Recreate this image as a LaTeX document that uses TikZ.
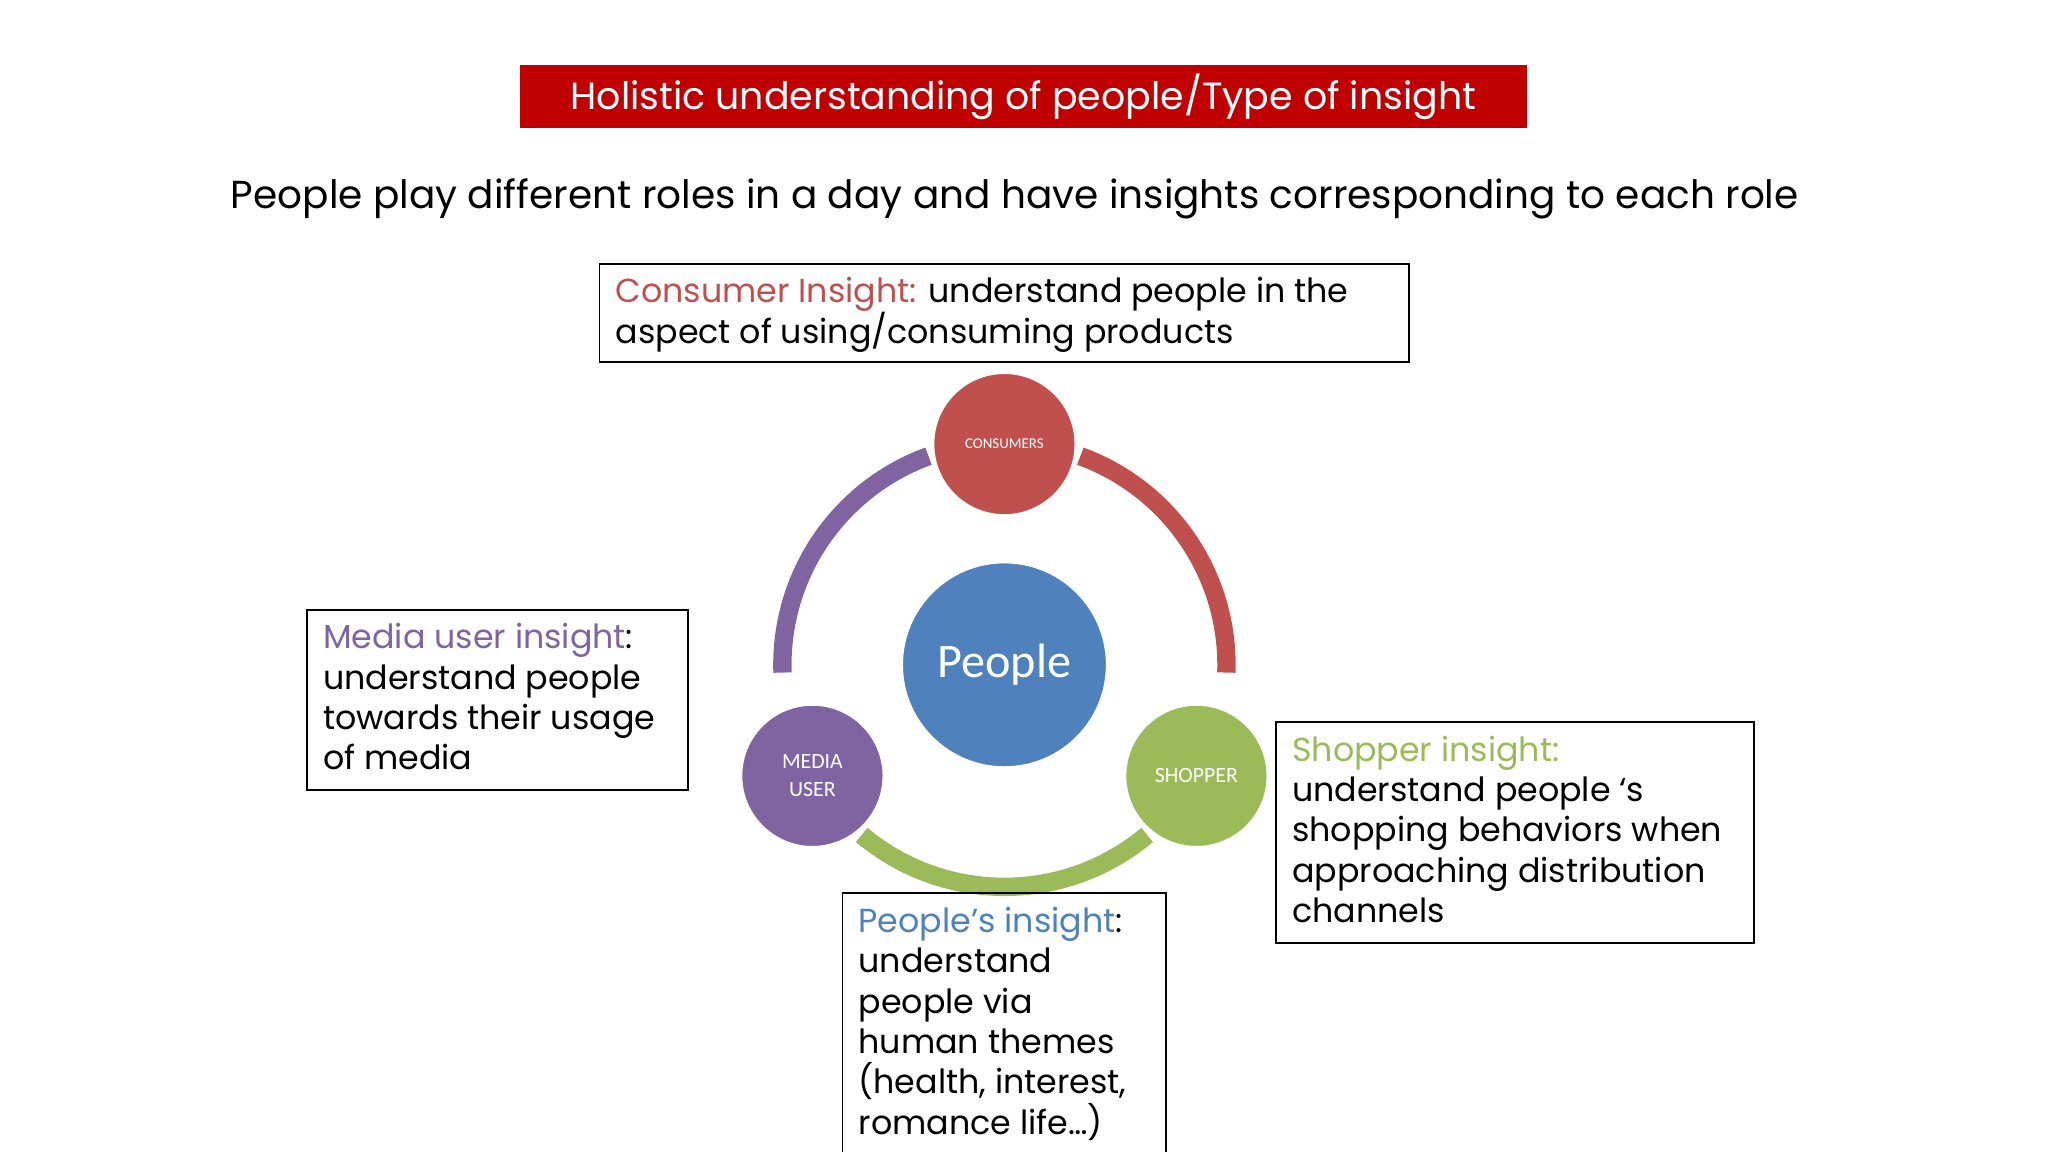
\documentclass[tikz,border=0pt]{standalone}
\usepackage{fontspec}
\setmainfont{Poppins}
\newfontfamily\calfont{Carlito}
\definecolor{cred}{HTML}{C0504D}
\definecolor{cgreen}{HTML}{9BBB59}
\definecolor{cpurple}{HTML}{8064A2}
\definecolor{cblue}{HTML}{4F81BD}
\definecolor{tred}{HTML}{C00000}
\begin{document}
\begin{tikzpicture}[x=0.02cm,y=-0.02cm,
  ibox/.style={draw=black,line width=0.8pt},
  itext/.style={anchor=north west,align=left,inner sep=0,font=\fontsize{14.5}{17.6}\selectfont},
  role/.style={circle,draw=white,line width=1.5pt,minimum size=2.2cm,text=white,align=center,inner sep=0},
  ring/.style={line width=8pt}]
\useasboundingbox[fill=white] (0,0) rectangle (1568,882);
\node[fill=tred,minimum width=15.42cm,minimum height=0.96cm,text=white,font=\fontsize{16.5}{19}\selectfont] (title) at (783.5,74) {Holistic understanding of people/Type of insight};
\node[font=\fontsize{17}{20}\selectfont] (sub) at (777,152) {People play different roles in a day and have insights corresponding to each role};
% ring
\coordinate (c) at (769,509);
\draw[ring,cred] ([shift={(-70:170)}]c) arc[start angle=-70,end angle=2,radius=170];
\draw[ring,cgreen] ([shift={(50:170)}]c) arc[start angle=50,end angle=130,radius=170];
\draw[ring,cpurple] ([shift={(178:170)}]c) arc[start angle=178,end angle=250,radius=170];
% circles
\node[role,fill=cblue,minimum size=3.16cm,font=\calfont\fontsize{21}{24}\selectfont] (people) at (769,509) {People};
\node[role,fill=cred,font=\calfont\fontsize{6.5}{8}\selectfont] (cons) at (769,340) {CONSUMERS};
\node[role,fill=cgreen,font=\calfont\fontsize{9.5}{11}\selectfont] (shop) at (916,594) {SHOPPER};
\node[role,fill=cpurple,font=\calfont\fontsize{9.5}{12.2}\selectfont] (media) at (622,594) {MEDIA\\USER};
% boxes
\draw[ibox] (459,202) rectangle (1079,277);
\node[itext] (ct) at (471,212) {\textcolor{cred}{Consumer Insight:} understand people in the\\aspect of using/consuming products};
\draw[ibox] (235,467) rectangle (527,605);
\node[itext] (mt) at (247,477) {\textcolor{cpurple}{Media user insight}:\\understand people\\towards their usage\\of media};
\draw[ibox] (977,553) rectangle (1343,722);
\node[itext] (st) at (989,563) {\textcolor{cgreen}{Shopper insight:}\\understand people ‘s\\shopping behaviors when\\approaching distribution\\channels};
\draw[ibox] (645,884) -- (645,684) -- (893,684) -- (893,884);
\node[itext] (pt) at (657,694) {\textcolor{cblue}{People’s insight}:\\understand\\people via\\human themes\\(health, interest,\\romance life…)};
\end{tikzpicture}
\end{document}
